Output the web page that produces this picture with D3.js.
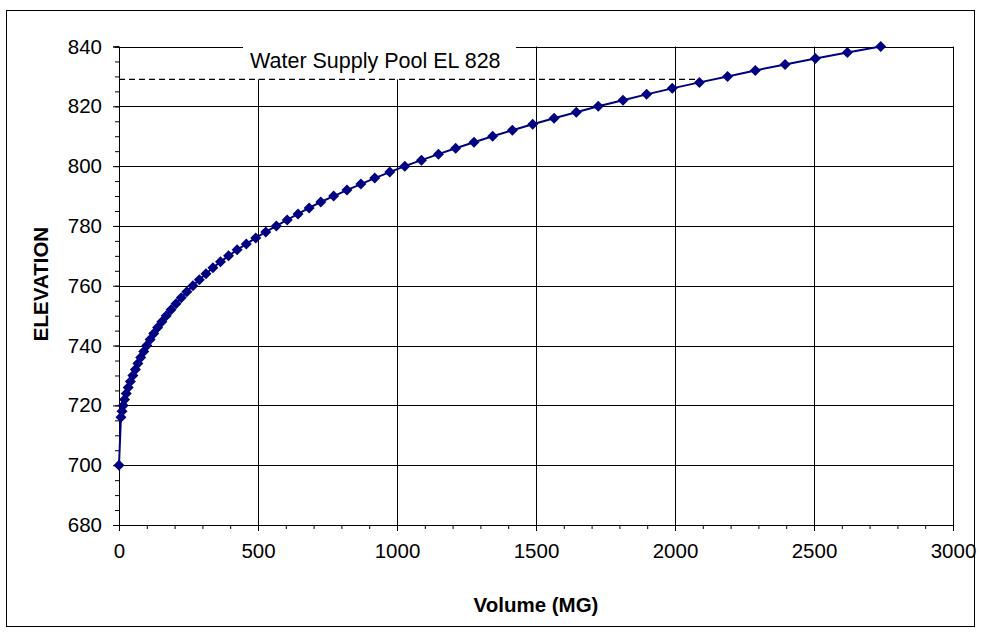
<!DOCTYPE html>
<html>
<head>
<meta charset="utf-8">
<script src="https://cdn.jsdelivr.net/npm/d3@7"></script>
<style>
  html, body { margin: 0; padding: 0; background: #fff; }
  svg { display: block; }
  text { font-family: "Liberation Sans", Arial, sans-serif; fill: #000; }
</style>
</head>
<body>
<svg id="chart" width="981" height="635"></svg>
<script>
// ---- data ----
const elevation = [700, 716, 718, 720, 722, 724, 726, 728, 730, 732, 734, 736, 738, 740,
  742, 744, 746, 748, 750, 752, 754, 756, 758, 760, 762, 764, 766, 768, 770,
  772, 774, 776, 778, 780, 782, 784, 786, 788, 790, 792, 794, 796, 798, 800,
  802, 804, 806, 808, 810, 812, 814, 816, 818, 820, 822, 824, 826, 828, 830,
  832, 834, 836, 838, 840];
const volume = [0, 7, 11, 15, 20, 26, 33, 41, 50, 59, 68, 78, 89, 100,
  112, 125, 139, 154, 170, 187, 205, 224, 244, 266, 289, 313, 338, 365, 394,
  425, 458, 492, 528, 566, 605, 644, 684, 726, 772, 820, 870, 920, 974, 1028,
  1088, 1149, 1211, 1277, 1344, 1415, 1488, 1565, 1645, 1724, 1813, 1898, 1990, 2088, 2189,
  2289, 2396, 2505, 2620, 2740];
const xTicks = [0, 500, 1000, 1500, 2000, 2500, 3000];
const yTicks = [680, 700, 720, 740, 760, 780, 800, 820, 840];
const xMinorTicks = d3.range(0, 3001, 100);
const yMinorTicks = d3.range(680, 841, 5);
const poolLabel = "Water Supply Pool EL 828";
const poolLineElev = 829;
const poolLineVol = [0, 2085];
const xTitle = "Volume (MG)";
const yTitle = "ELEVATION";

// ---- layout ----
const svg = d3.select("#chart");
const L = 119, R = 953, T = 46.5, B = 525;
const x = d3.scaleLinear().domain([0, 3000]).range([L, R]);
const y = d3.scaleLinear().domain([680, 840]).range([B, T]);

// outer frame
svg.append("rect").attr("x", 6.5).attr("y", 10.5).attr("width", 968).attr("height", 616)
  .attr("fill", "#fff").attr("stroke", "#000").attr("stroke-width", 1);

// gridlines
const grid = svg.append("g");
grid.selectAll("line.h").data(yTicks.filter(d => d !== 680)).enter().append("line")
  .attr("x1", L).attr("x2", R)
  .attr("y1", d => Math.round(y(d)) + 0.5).attr("y2", d => Math.round(y(d)) + 0.5)
  .attr("stroke", "#000").attr("stroke-width", 1);
grid.selectAll("line.v").data(xTicks.filter(d => d !== 0)).enter().append("line")
  .attr("y1", T).attr("y2", B)
  .attr("x1", d => Math.round(x(d)) + 0.5).attr("x2", d => Math.round(x(d)) + 0.5)
  .attr("stroke", "#000").attr("stroke-width", 1);

// axes
const xAxisMinor = d3.axisBottom(x).tickValues(xMinorTicks).tickSize(4).tickFormat("");
const xAxis = d3.axisBottom(x).tickValues(xTicks).tickSize(6).tickPadding(12).tickFormat(d3.format("d"));
const yAxisMinor = d3.axisLeft(y).tickValues(yMinorTicks).tickSize(4).tickFormat("");
const yAxis = d3.axisLeft(y).tickValues(yTicks).tickSize(6).tickPadding(11).tickFormat(d3.format("d"));

function styleAxis(g) {
  g.select(".domain").attr("stroke", "#000");
  g.selectAll(".tick line").attr("stroke", "#000");
  g.selectAll("text").attr("font-size", 20.5).attr("font-family", "Liberation Sans, Arial, sans-serif").attr("fill", "#000");
}
svg.append("g").attr("transform", `translate(0,${B})`).call(xAxisMinor).call(styleAxis);
svg.append("g").attr("transform", `translate(0,${B})`).call(xAxis).call(styleAxis);
svg.append("g").attr("transform", `translate(${L},0)`).call(yAxisMinor).call(styleAxis);
svg.append("g").attr("transform", `translate(${L},0)`).call(yAxis).call(styleAxis);

// label box + text
svg.append("rect").attr("x", 243).attr("y", 34).attr("width", 273).attr("height", y(poolLineElev) - 34)
  .attr("fill", "#fff");
svg.append("text").attr("x", 250).attr("y", 68).attr("font-size", 21.5).text(poolLabel);

// dashed reference line
svg.append("line")
  .attr("x1", x(poolLineVol[0])).attr("x2", x(poolLineVol[1]))
  .attr("y1", y(poolLineElev)).attr("y2", y(poolLineElev))
  .attr("stroke", "#000").attr("stroke-width", 1.3).attr("stroke-dasharray", "6,4");

// series
const pts = volume.map((v, i) => [v, elevation[i]]);
svg.append("path").datum(pts)
  .attr("d", d3.line().x(d => x(d[0])).y(d => y(d[1])))
  .attr("fill", "none").attr("stroke", "#000080").attr("stroke-width", 2);
svg.append("g").selectAll("path").data(pts).enter().append("path")
  .attr("d", "M0,-5.5L5.5,0L0,5.5L-5.5,0Z")
  .attr("transform", d => `translate(${x(d[0])},${y(d[1])})`)
  .attr("fill", "#000080");

// axis titles
svg.append("text").attr("x", (L + R) / 2).attr("y", 612).attr("text-anchor", "middle")
  .attr("font-size", 20.5).attr("font-weight", "bold").text(xTitle);
svg.append("text").attr("transform", `translate(48,284) rotate(-90)`)
  .attr("text-anchor", "middle").attr("font-size", 20.5).attr("font-weight", "bold").text(yTitle);
</script>
</body>
</html>
